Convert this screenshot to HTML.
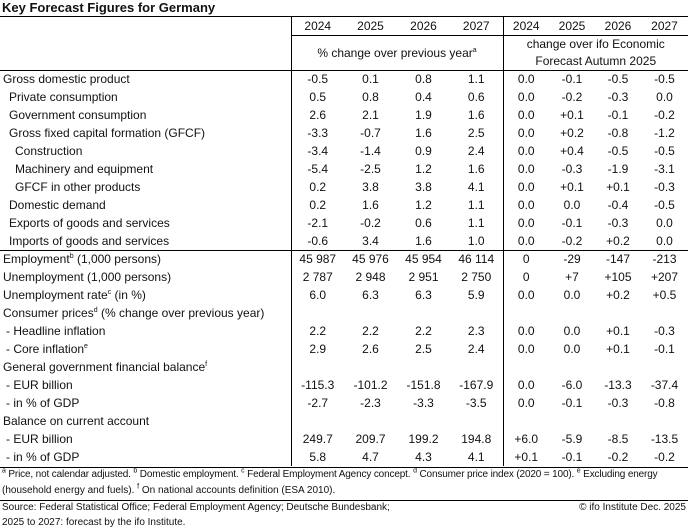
<!DOCTYPE html>
<html><head><meta charset="utf-8"><style>
body{margin:0;width:688px;height:529px;background:#fff;font-family:"Liberation Sans",sans-serif;color:#111;position:relative;overflow:hidden}
.t{position:absolute;left:2px;top:0px;font-weight:bold;font-size:13px}
table{position:absolute;left:0;top:16px;border-collapse:collapse;table-layout:fixed;width:688px;font-size:12px}
td{height:18px;padding:0;line-height:18px;white-space:nowrap;text-align:center}
td.l{text-align:left;padding-left:3px}
.b{border-left:1px solid #000}
.top td{border-top:1.5px solid #000}
.sep td{border-top:1px solid #000;height:17px;line-height:17px}
sup{font-size:7px;line-height:0}
.i1{padding-left:9px!important}.i2{padding-left:15px!important}.d{padding-left:6px!important}
.fn{position:absolute;left:2px;font-size:10px;line-height:16px;white-space:nowrap}
.hl{position:absolute;left:0;width:688px;border-top:1px solid #000}
</style></head><body>
<div class="t">Key Forecast Figures for Germany</div>
<table>
<colgroup><col style="width:291px"><col style="width:53px"><col style="width:53px"><col style="width:53px"><col style="width:53px"><col style="width:46px"><col style="width:46px"><col style="width:46px"><col style="width:47px"></colgroup>
<tr class="top"><td></td><td class="b" style="border-bottom:1px solid #000">2024</td><td style="border-bottom:1px solid #000">2025</td><td style="border-bottom:1px solid #000">2026</td><td style="border-bottom:1px solid #000">2027</td><td class="b" style="border-bottom:1px solid #000">2024</td><td style="border-bottom:1px solid #000">2025</td><td style="border-bottom:1px solid #000">2026</td><td style="border-bottom:1px solid #000">2027</td></tr>
<tr><td style="height:34px"></td><td class="b" colspan="4">% change over previous year<sup>a</sup></td><td class="b" colspan="4" style="line-height:17px">change over ifo Economic<br>Forecast Autumn 2025</td></tr>
<tr class="sep"><td class="l">Gross domestic product</td><td class="b">-0.5</td><td>0.1</td><td>0.8</td><td>1.1</td><td class="b">0.0</td><td>-0.1</td><td>-0.5</td><td>-0.5</td></tr>
<tr><td class="l i1">Private consumption</td><td class="b">0.5</td><td>0.8</td><td>0.4</td><td>0.6</td><td class="b">0.0</td><td>-0.2</td><td>-0.3</td><td>0.0</td></tr>
<tr><td class="l i1">Government consumption</td><td class="b">2.6</td><td>2.1</td><td>1.9</td><td>1.6</td><td class="b">0.0</td><td>+0.1</td><td>-0.1</td><td>-0.2</td></tr>
<tr><td class="l i1">Gross fixed capital formation (GFCF)</td><td class="b">-3.3</td><td>-0.7</td><td>1.6</td><td>2.5</td><td class="b">0.0</td><td>+0.2</td><td>-0.8</td><td>-1.2</td></tr>
<tr><td class="l i2">Construction</td><td class="b">-3.4</td><td>-1.4</td><td>0.9</td><td>2.4</td><td class="b">0.0</td><td>+0.4</td><td>-0.5</td><td>-0.5</td></tr>
<tr><td class="l i2">Machinery and equipment</td><td class="b">-5.4</td><td>-2.5</td><td>1.2</td><td>1.6</td><td class="b">0.0</td><td>-0.3</td><td>-1.9</td><td>-3.1</td></tr>
<tr><td class="l i2">GFCF in other products</td><td class="b">0.2</td><td>3.8</td><td>3.8</td><td>4.1</td><td class="b">0.0</td><td>+0.1</td><td>+0.1</td><td>-0.3</td></tr>
<tr><td class="l i1">Domestic demand</td><td class="b">0.2</td><td>1.6</td><td>1.2</td><td>1.1</td><td class="b">0.0</td><td>0.0</td><td>-0.4</td><td>-0.5</td></tr>
<tr><td class="l i1">Exports of goods and services</td><td class="b">-2.1</td><td>-0.2</td><td>0.6</td><td>1.1</td><td class="b">0.0</td><td>-0.1</td><td>-0.3</td><td>0.0</td></tr>
<tr><td class="l i1">Imports of goods and services</td><td class="b">-0.6</td><td>3.4</td><td>1.6</td><td>1.0</td><td class="b">0.0</td><td>-0.2</td><td>+0.2</td><td>0.0</td></tr>
<tr class="sep"><td class="l">Employment<sup>b</sup> (1,000 persons)</td><td class="b">45 987</td><td>45 976</td><td>45 954</td><td>46 114</td><td class="b">0</td><td>-29</td><td>-147</td><td>-213</td></tr>
<tr><td class="l">Unemployment (1,000 persons)</td><td class="b">2 787</td><td>2 948</td><td>2 951</td><td>2 750</td><td class="b">0</td><td>+7</td><td>+105</td><td>+207</td></tr>
<tr><td class="l">Unemployment rate<sup>c</sup> (in %)</td><td class="b">6.0</td><td>6.3</td><td>6.3</td><td>5.9</td><td class="b">0.0</td><td>0.0</td><td>+0.2</td><td>+0.5</td></tr>
<tr><td class="l">Consumer prices<sup>d</sup> (% change over previous year)</td><td class="b"></td><td></td><td></td><td></td><td class="b"></td><td></td><td></td><td></td></tr>
<tr><td class="l d">- Headline inflation</td><td class="b">2.2</td><td>2.2</td><td>2.2</td><td>2.3</td><td class="b">0.0</td><td>0.0</td><td>+0.1</td><td>-0.3</td></tr>
<tr><td class="l d">- Core inflation<sup>e</sup></td><td class="b">2.9</td><td>2.6</td><td>2.5</td><td>2.4</td><td class="b">0.0</td><td>0.0</td><td>+0.1</td><td>-0.1</td></tr>
<tr><td class="l">General government financial balance<sup>f</sup></td><td class="b"></td><td></td><td></td><td></td><td class="b"></td><td></td><td></td><td></td></tr>
<tr><td class="l d">- EUR billion</td><td class="b">-115.3</td><td>-101.2</td><td>-151.8</td><td>-167.9</td><td class="b">0.0</td><td>-6.0</td><td>-13.3</td><td>-37.4</td></tr>
<tr><td class="l d">- in % of GDP</td><td class="b">-2.7</td><td>-2.3</td><td>-3.3</td><td>-3.5</td><td class="b">0.0</td><td>-0.1</td><td>-0.3</td><td>-0.8</td></tr>
<tr><td class="l">Balance on current account</td><td class="b"></td><td></td><td></td><td></td><td class="b"></td><td></td><td></td><td></td></tr>
<tr><td class="l d">- EUR billion</td><td class="b">249.7</td><td>209.7</td><td>199.2</td><td>194.8</td><td class="b">+6.0</td><td>-5.9</td><td>-8.5</td><td>-13.5</td></tr>
<tr><td class="l d">- in % of GDP</td><td class="b">5.8</td><td>4.7</td><td>4.3</td><td>4.1</td><td class="b">+0.1</td><td>-0.1</td><td>-0.2</td><td>-0.2</td></tr>
</table>
<div class="hl" style="top:467px"></div>
<div class="fn" style="top:467px;letter-spacing:-0.15px"><sup>a</sup> Price, not calendar adjusted. <sup>b</sup> Domestic employment. <sup>c</sup> Federal Employment Agency concept. <sup>d</sup> Consumer price index (2020 = 100). <sup>e</sup> Excluding energy</div>
<div class="fn" style="top:483px">(household energy and fuels). <sup>f</sup> On national accounts definition (ESA 2010).</div>
<div class="hl" style="top:500px"></div>
<div class="fn" style="top:500px">Source: Federal Statistical Office; Federal Employment Agency; Deutsche Bundesbank;</div>
<div class="fn" style="top:500px;left:auto;right:2px">© ifo Institute Dec. 2025</div>
<div class="fn" style="top:515px">2025 to 2027: forecast by the ifo Institute.</div>
</body></html>
